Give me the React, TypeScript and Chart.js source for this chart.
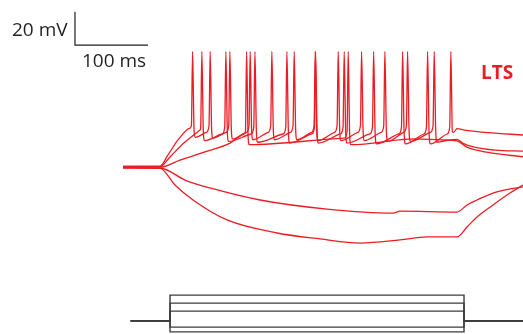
import React, { useEffect, useRef } from "react";
import { Chart, registerables } from "chart.js";

Chart.register(...registerables);

// ---- Axes (ms / mV / pA) ----
const T_MIN = -168.5;
const T_MAX = 547.9;
const V_MIN = -166.2;
const V_MAX = 36.2;
const I_MIN = -83.1;
const I_MAX = 2004.4;

const ONSET_V = 50.7; // ms, voltage response onset
const STIM_ON = 64.4; // ms
const STIM_OFF = 467.1; // ms
const STIM_START = 10.5; // ms
const PEAK_V = 5.0; // mV spike peak

// ---- Scale bar ----
const scaleBar = [
  { x: -65.8, y: 29.1 },
  { x: -65.8, y: 8.9 },
  { x: 34.2, y: 8.9 },
];

// ---- Stimulus current levels (pA) ----
const stimLevels = [160, 110, 60, -40, -70];

// ---- Depolarised traces: spike times (ms), troughs (mV) ----
const spikesT1 = [94.1, 118.2, 145.2, 173.0, 202.7, 233.3, 262.1, 293.6, 325.6, 357.5, 388.6, 425.1];
const troughsT1 = [-47, -47.5, -48, -48.5, -48.5, -48.5, -49, -49, -49, -49.5, -49.5, -50];
const spikesT2 = [106.8, 139.7, 179.5, 223.3, 262.6, 301.8, 342.1, 381.8, 416.0, 447.9];
const troughsT2 = [-49, -49.5, -50, -50.5, -50.5, -50.5, -51, -51, -51, -44];
const spikesT3 = [168.1, 307.3];
const troughsT3 = [-51.5, -51.5];
const threshT1 = -40.0;
const threshT2 = -41.0;
const threshT3 = -43.5;

const preT1: [number, number][] = [[0, -64.5], [ONSET_V, -64.5], [61.6, -57.7], [75.3, -48.6], [91.8, -41.4]];
const preT2: [number, number][] = [[0, -64.8], [ONSET_V, -64.8], [64.4, -58.9], [84.9, -49.8], [105.5, -42.6]];
const preT3: [number, number][] = [[0, -65.1], [ONSET_V, -65.1], [78.1, -60.8], [112.3, -55.9], [146.6, -50.5], [165.8, -45.0]];

const postT1: [number, number][] = [[445, -48.8], [457.5, -48.2], [465, -50.5], [480, -52.8], [510, -54.8], [547.9, -55.4]];
const postT2: [number, number][] = [[457.5, -41.8], [470, -42.8], [500, -44.2], [547.9, -45.6]];
const postT3: [number, number][] = [[400, -48.0], [434.2, -48.6], [457.5, -49.2], [471, -53], [500, -56.2], [547.9, -58.8]];

// ---- Hyperpolarised traces ----
const hyper1: [number, number][] = [
  [0, -65.4], [ONSET_V, -65.6], [84.9, -72.9], [119.2, -77.7], [187.7, -85.0], [279.5, -90.5],
  [369.9, -92.9], [379.5, -91.7], [457.5, -92.3], [471.2, -88.0], [484.9, -85.0], [506.8, -80.8],
  [530.1, -78.3], [547.9, -77.1],
];
const hyper2: [number, number][] = [
  [0, -65.7], [ONSET_V, -65.8], [71.2, -75.9], [95.9, -85.0], [142.5, -97.1], [211.0, -105.0],
  [269.9, -108.6], [324.7, -111.1], [379.5, -109.2], [416.4, -107.4], [457.5, -107.4],
  [471.2, -101.4], [484.9, -95.3], [506.8, -88.0], [530.1, -80.8], [547.9, -75.9],
];

const RED = "#ec1c24";
const DARK = "#231f20";
const STIM = "#3c3c3c";

function buildDep(
  pre: [number, number][],
  spikes: number[],
  troughs: number[],
  vth: number,
  post: [number, number][]
) {
  const pts: [number, number][] = [...pre];
  spikes.forEach((ts, i) => {
    pts.push([ts - 0.4, vth], [ts + 1.2, PEAK_V], [ts + 3.2, vth - 2.5], [ts + 5, troughs[i]]);
    const next = spikes[i + 1];
    if (next !== undefined) pts.push([next - 4, vth - 4]);
  });
  pts.push(...post);
  return pts.map(([x, y]) => ({ x, y }));
}

function toXY(a: [number, number][]) {
  return a.map(([x, y]) => ({ x, y }));
}

export default function App() {
  const ref = useRef<HTMLCanvasElement | null>(null);
  useEffect(() => {
    if (!ref.current) return;
    const traceDs = (data: { x: number; y: number }[]) => ({
      data,
      borderColor: RED,
      borderWidth: 1.3,
      pointRadius: 0,
      fill: false,
      cubicInterpolationMode: "monotone" as const,
      yAxisID: "y",
    });
    const stimDs = stimLevels.map((L) => ({
      data: toXY([
        [STIM_START, 0],
        [STIM_ON, 0],
        [STIM_ON, L],
        [STIM_OFF, L],
        [STIM_OFF, 0],
        [T_MAX, 0],
      ]),
      borderColor: STIM,
      borderWidth: 1.4,
      pointRadius: 0,
      fill: false,
      tension: 0,
      yAxisID: "yI",
    }));
    const chart = new Chart(ref.current, {
      type: "line",
      data: {
        datasets: [
          traceDs(toXY(hyper2)),
          traceDs(toXY(hyper1)),
          traceDs(buildDep(preT3, spikesT3, troughsT3, threshT3, postT3)),
          traceDs(buildDep(preT2, spikesT2, troughsT2, threshT2, postT2)),
          traceDs(buildDep(preT1, spikesT1, troughsT1, threshT1, postT1)),
          ...stimDs,
          {
            data: scaleBar,
            borderColor: DARK,
            borderWidth: 1.2,
            pointRadius: 0,
            fill: false,
            tension: 0,
            yAxisID: "y",
          },
        ],
      },
      options: {
        responsive: false,
        animation: false,
        parsing: false as any,
        layout: { padding: 0 },
        plugins: { legend: { display: false }, tooltip: { enabled: false } },
        scales: {
          x: { type: "linear", min: T_MIN, max: T_MAX, display: false },
          y: { type: "linear", min: V_MIN, max: V_MAX, display: false },
          yI: { type: "linear", min: I_MIN, max: I_MAX, display: false },
        },
      },
    });
    return () => chart.destroy();
  }, []);

  const txt: React.CSSProperties = {
    position: "absolute",
    fontFamily: "'Open Sans', sans-serif",
    lineHeight: 1,
    whiteSpace: "nowrap",
    color: DARK,
  };

  return (
    <div style={{ position: "fixed", left: 0, top: 0, width: 523, height: 334, background: "#fff", overflow: "hidden" }}>
      <canvas ref={ref} width={523} height={334} style={{ position: "absolute", left: 0, top: 0 }} />
      <span style={{ ...txt, left: 12, top: 20, fontSize: 19 }}>20 mV</span>
      <span style={{ ...txt, left: 82, top: 51, fontSize: 19 }}>100 ms</span>
      <span style={{ ...txt, left: 481, top: 63, fontSize: 19, fontWeight: 700, color: RED }}>LTS</span>
    </div>
  );
}
